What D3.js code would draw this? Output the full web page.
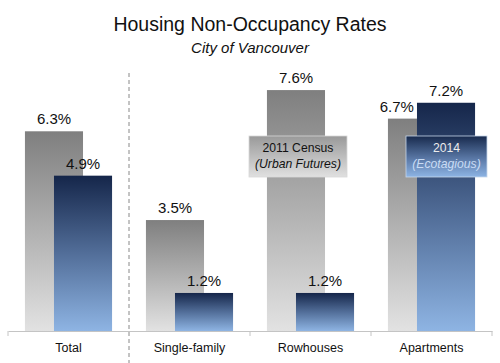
<!DOCTYPE html>
<html>
<head>
<meta charset="utf-8">
<script src="https://cdn.jsdelivr.net/npm/d3@7"></script>
<style>
  html, body { margin: 0; padding: 0; background: #fff; }
  svg { display: block; font-family: "Liberation Sans", Arial, sans-serif; }
</style>
</head>
<body>
<svg id="chart" width="500" height="363"></svg>
<script>
const categories = ["Total", "Single-family", "Rowhouses", "Apartments"];
const census2011 = [6.3, 3.5, 7.6, 6.7];
const ecotagious2014 = [4.9, 1.2, 1.2, 7.2];
const seriesNames = [["2011 Census", "(Urban Futures)"], ["2014", "(Ecotagious)"]];
const titleText = "Housing Non-Occupancy Rates";
const subtitleText = "City of Vancouver";

const svg = d3.select("#chart");
const W = 500, H = 363;
const baseY = 331;

const x = d3.scaleBand().domain(categories).range([8, 492]).padding(0);
const y = d3.scaleLinear().domain([0, 8]).range([baseY, 77.4]);

const bw = x.bandwidth();
const barW = bw * 0.48;
const grayOff = bw * 0.14;
const blueOff = grayOff + barW / 2;

const defs = svg.append("defs");
const gGray = defs.append("linearGradient").attr("id", "gGray").attr("x1", 0).attr("y1", 0).attr("x2", 0).attr("y2", 1);
gGray.append("stop").attr("offset", 0).attr("stop-color", "#7f7f7f");
gGray.append("stop").attr("offset", 1).attr("stop-color", "#e2e2e2");
const gBlue = defs.append("linearGradient").attr("id", "gBlue").attr("x1", 0).attr("y1", 0).attr("x2", 0).attr("y2", 1);
gBlue.append("stop").attr("offset", 0).attr("stop-color", "#15264a");
gBlue.append("stop").attr("offset", 0.5).attr("stop-color", "#526e99");
gBlue.append("stop").attr("offset", 1).attr("stop-color", "#8eb4e3");
const gGrayL = defs.append("linearGradient").attr("id", "gGrayL").attr("x1", 0).attr("y1", 0).attr("x2", 0).attr("y2", 1);
gGrayL.append("stop").attr("offset", 0).attr("stop-color", "#999999");
gGrayL.append("stop").attr("offset", 1).attr("stop-color", "#e0e0e0");
const gBlueL = defs.append("linearGradient").attr("id", "gBlueL").attr("x1", 0).attr("y1", 0).attr("x2", 0).attr("y2", 1);
gBlueL.append("stop").attr("offset", 0).attr("stop-color", "#182a4d");
gBlueL.append("stop").attr("offset", 0.55).attr("stop-color", "#5a78a6");
gBlueL.append("stop").attr("offset", 1).attr("stop-color", "#8db4e4");

// Title
svg.append("text").attr("x", W / 2).attr("y", 31).attr("text-anchor", "middle")
  .attr("font-size", 19.5).attr("fill", "#111").text(titleText);
svg.append("text").attr("x", W / 2).attr("y", 53).attr("text-anchor", "middle")
  .attr("font-size", 15).attr("font-style", "italic").attr("fill", "#111").text(subtitleText);

const data = categories.map((c, i) => ({ c, a: census2011[i], b: ecotagious2014[i] }));

// Gray bars
svg.selectAll("rect.gray").data(data).join("rect").attr("class", "gray")
  .attr("x", d => x(d.c) + grayOff).attr("width", barW)
  .attr("y", d => y(d.a)).attr("height", d => baseY - y(d.a))
  .attr("fill", "url(#gGray)");
// Blue bars
svg.selectAll("rect.blue").data(data).join("rect").attr("class", "blue")
  .attr("x", d => x(d.c) + blueOff).attr("width", barW)
  .attr("y", d => y(d.b)).attr("height", d => baseY - y(d.b))
  .attr("fill", "url(#gBlue)");

const fmt = v => v.toFixed(1) + "%";
// Gray labels
svg.selectAll("text.lg").data(data).join("text").attr("class", "lg")
  .attr("x", d => d.b > d.a ? x(d.c) + blueOff - 3 : x(d.c) + grayOff + barW / 2)
  .attr("text-anchor", d => d.b > d.a ? "end" : "middle")
  .attr("y", d => y(d.a) - 7)
  .attr("font-size", 15).attr("fill", "#111").text(d => fmt(d.a));
// Blue labels
svg.selectAll("text.lb").data(data).join("text").attr("class", "lb")
  .attr("x", d => x(d.c) + blueOff + barW / 2).attr("text-anchor", "middle")
  .attr("y", d => y(d.b) - 7)
  .attr("font-size", 15).attr("fill", "#111").text(d => fmt(d.b));

// Axis
const axis = svg.append("g").attr("transform", `translate(0,${baseY})`)
  .call(d3.axisBottom(x).tickSize(0).tickPadding(12.5));
axis.select(".domain").attr("stroke", "#c4c4c4").attr("stroke-width", 1);
axis.selectAll("text").attr("font-size", 12.5).attr("fill", "#111")
  .attr("font-family", "'Liberation Sans', Arial, sans-serif");

// boundary ticks
const bounds = [x.range()[0], x(categories[2]), x(categories[3]), x.range()[1]];
svg.selectAll("line.tk").data(bounds).join("line").attr("class", "tk")
  .attr("x1", d => d).attr("x2", d => d).attr("y1", baseY).attr("y2", baseY + 5)
  .attr("stroke", "#c4c4c4");

// Dashed separator
svg.append("line").attr("x1", x(categories[1])).attr("x2", x(categories[1]))
  .attr("y1", 73).attr("y2", 363)
  .attr("stroke", "#888").attr("stroke-dasharray", "4,3").attr("stroke-width", 1);

// Legend labels
const leg = [
  { x: 249, w: 98, fill: "url(#gGrayL)", stroke: "#d8d8d8", c1: "#111", c2: "#111", names: seriesNames[0] },
  { x: 406, w: 81, fill: "url(#gBlueL)", stroke: "#c6d6ea", c1: "#ececec", c2: "#c9dcf4", names: seriesNames[1] }
];
leg.forEach(l => {
  svg.append("rect").attr("x", l.x).attr("y", 136).attr("width", l.w).attr("height", 41)
    .attr("fill", l.fill).attr("stroke", l.stroke).attr("stroke-width", 0.8);
  svg.append("text").attr("x", l.x + l.w / 2).attr("y", 152).attr("text-anchor", "middle")
    .attr("font-size", 12.2).attr("fill", l.c1).text(l.names[0]);
  svg.append("text").attr("x", l.x + l.w / 2).attr("y", 168).attr("text-anchor", "middle")
    .attr("font-size", 12.2).attr("font-style", "italic").attr("fill", l.c2).text(l.names[1]);
});
</script>
</body>
</html>
